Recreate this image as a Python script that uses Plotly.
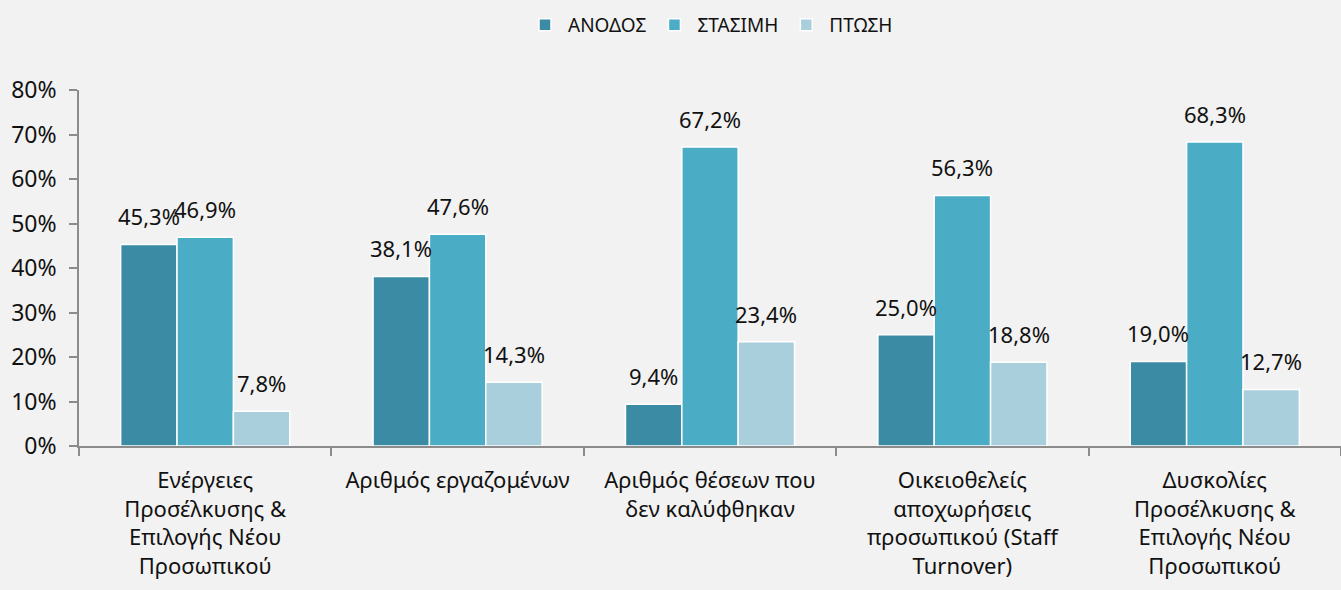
import plotly.graph_objects as go

categories = [
    "Ενέργειες<br>Προσέλκυσης &<br>Επιλογής Νέου<br>Προσωπικού",
    "Αριθμός εργαζομένων",
    "Αριθμός θέσεων που<br>δεν καλύφθηκαν",
    "Οικειοθελείς<br>αποχωρήσεις<br>προσωπικού (Staff<br>Turnover)",
    "Δυσκολίες<br>Προσέλκυσης &<br>Επιλογής Νέου<br>Προσωπικού",
]
series_names = ["ΑΝΟΔΟΣ", "ΣΤΑΣΙΜΗ", "ΠΤΩΣΗ"]
anodos = [45.3, 38.1, 9.4, 25.0, 19.0]
stasimi = [46.9, 47.6, 67.2, 56.3, 68.3]
ptosi = [7.8, 14.3, 23.4, 18.8, 12.7]
colors = ["#3a8ba3", "#4bacc6", "#a9cfdc"]
yticks = [0, 10, 20, 30, 40, 50, 60, 70, 80]

FONT = "Noto Sans"
W, H = 1341, 590
ML, MR, MT, MB = 79, 0, 90, 144
BARGAP = 0.33

fig = go.Figure()
all_series = [anodos, stasimi, ptosi]
for name, vals, col in zip(series_names, all_series, colors):
    fig.add_trace(go.Bar(
        x=categories, y=[v / 100 for v in vals], name=name,
        marker=dict(color=col, line=dict(color="white", width=1.5)),
    ))

# data labels above bars
group_w = (W - ML - MR) / len(categories)
bar_w = group_w * (1 - BARGAP) / 3
for i, vals in enumerate(all_series):
    for cat, v in zip(categories, vals):
        fig.add_annotation(
            x=cat, y=v / 100, text=f"{v:.1f}%".replace(".", ","),
            showarrow=False, xshift=(i - 1) * bar_w, yshift=28,
            yanchor="middle", font=dict(size=22, color="#111111", family=FONT),
        )

fig.update_layout(
    width=W, height=H,
    margin=dict(l=ML, r=MR, t=MT, b=MB),
    paper_bgcolor="#f2f2f2", plot_bgcolor="#f2f2f2",
    barmode="group", bargap=BARGAP, bargroupgap=0,
    font=dict(family=FONT, size=18, color="#111111"),
    legend=dict(orientation="h", x=0.5, xanchor="center", y=0.99, yref="container",
                yanchor="top", font=dict(size=19), itemwidth=36, tracegroupgap=0),
    showlegend=True,
)
fig.update_yaxes(
    range=[0, 0.8], tickvals=[t / 100 for t in yticks],
    ticktext=[f"{t}%" for t in yticks],
    showgrid=False, zeroline=False, showline=True, linecolor="#8c8c8c", linewidth=1.5,
    ticks="outside", ticklen=8, tickcolor="#8c8c8c", tickwidth=1.5,
    ticklabelstandoff=8, tickfont=dict(size=23),
)
fig.update_xaxes(
    showgrid=False, showline=True, linecolor="#8c8c8c", linewidth=1.5,
    ticks="outside", tickson="boundaries", ticklen=8, tickcolor="#8c8c8c", tickwidth=1.5,
    ticklabelstandoff=14, tickfont=dict(size=22),
)

fig.write_html("out.html", config={"displayModeBar": False},
               post_script="document.body.style.margin='0';")
